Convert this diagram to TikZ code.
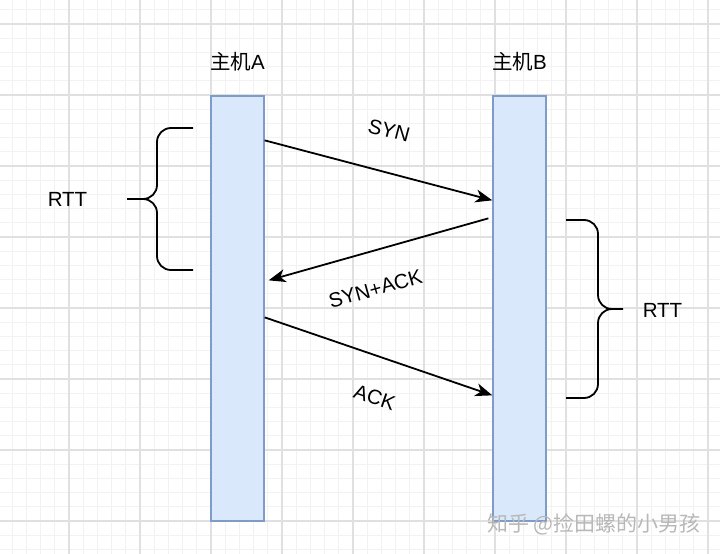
\documentclass[tikz,border=0pt]{standalone}
\usepackage{fontspec}
\setmainfont{Liberation Sans}
\newfontfamily\cjk{Noto Sans CJK SC}
\usetikzlibrary{arrows.meta, positioning}
\definecolor{cfill}{HTML}{DAE8FC}
\definecolor{cedge}{HTML}{7F9CC8}
\definecolor{cmajor}{HTML}{E0E0E0}
\definecolor{cminor}{HTML}{F2F2F2}
\definecolor{cmark}{HTML}{B8B8B8}
\tikzset{
  every picture/.style={line width=1.5pt},
  host/.style={draw=cedge, fill=cfill, line width=1.3pt, minimum width=53pt, minimum height=425pt, inner sep=0pt},
  msg/.style={-{Stealth[length=17pt, width=13pt, inset=5pt]}, draw=black, line width=1.8pt},
  lbl/.style={font=\fontsize{20.5}{24}\selectfont, inner sep=0pt},
  brace/.style={draw=black, line width=1.8pt, rounded corners=14pt},
  minorline/.style={draw=cminor, line width=0.8pt},
  majorline/.style={draw=cmajor, line width=1.2pt},
}

\begin{document}
\begin{tikzpicture}[x=1pt, y=-1pt]
  \useasboundingbox (0,0) rectangle (720,554);
  \fill[white] (0,0) rectangle (720,554);
  % grid
  \foreach \i in {0,...,51} \draw[minorline] ({-2+14.2*\i},0) -- ++(0,554);
  \foreach \j in {-1,...,37} \draw[minorline] (0,{24+14.2*\j}) -- ++(720,0);
  \foreach \i in {0,...,10} \draw[majorline] ({-2+71*\i},0) -- ++(0,554);
  \foreach \j in {0,...,7} \draw[majorline] (0,{24+71*\j}) -- ++(720,0);

  \node[host] (hostA) at (237.5,308.5) {};
  \node[host] (hostB) at (519.5,308.5) {};
  \node[lbl] (titleA) at (237.5,62) {{\cjk 主机}A};
  \node[lbl] (titleB) at (519.5,62) {{\cjk 主机}B};

  \draw[msg] ([yshift=-45pt]hostA.north east) -- node[lbl, sloped, above=33pt] (syn) {SYN} ([yshift=-105pt]hostB.north west);
  \draw[msg] ([xshift=-4pt, yshift=-123pt]hostB.north west) -- node[lbl, sloped, pos=0.56, below=29pt] (synack) {SYN+ACK} ([xshift=4pt, yshift=-185pt]hostA.north east);
  \draw[msg] ([yshift=-222pt]hostA.north east) -- node[lbl, sloped, pos=0.54, below=32pt] (ack) {ACK} ([yshift=-300pt]hostB.north west);

  % braces
  \draw[brace] (193,128) -- (157,128) -- (157,199) -- (127,199);
  \draw[brace] (193,270) -- (157,270) -- (157,199) -- (143,199);
  \draw[brace] (566,220) -- (598,220) -- (598,309) -- (623,309);
  \draw[brace] (566,398) -- (598,398) -- (598,309) -- (612,309);
  \node[lbl] (rttA) at (67.5,199) {RTT};
  \node[lbl] (rttB) at (662.5,310) {RTT};

  \node[font=\cjk\fontsize{21}{24}\selectfont, text=cmark] (mark) at (594,524) {知乎 @捡田螺的小男孩};
\end{tikzpicture}
\end{document}
